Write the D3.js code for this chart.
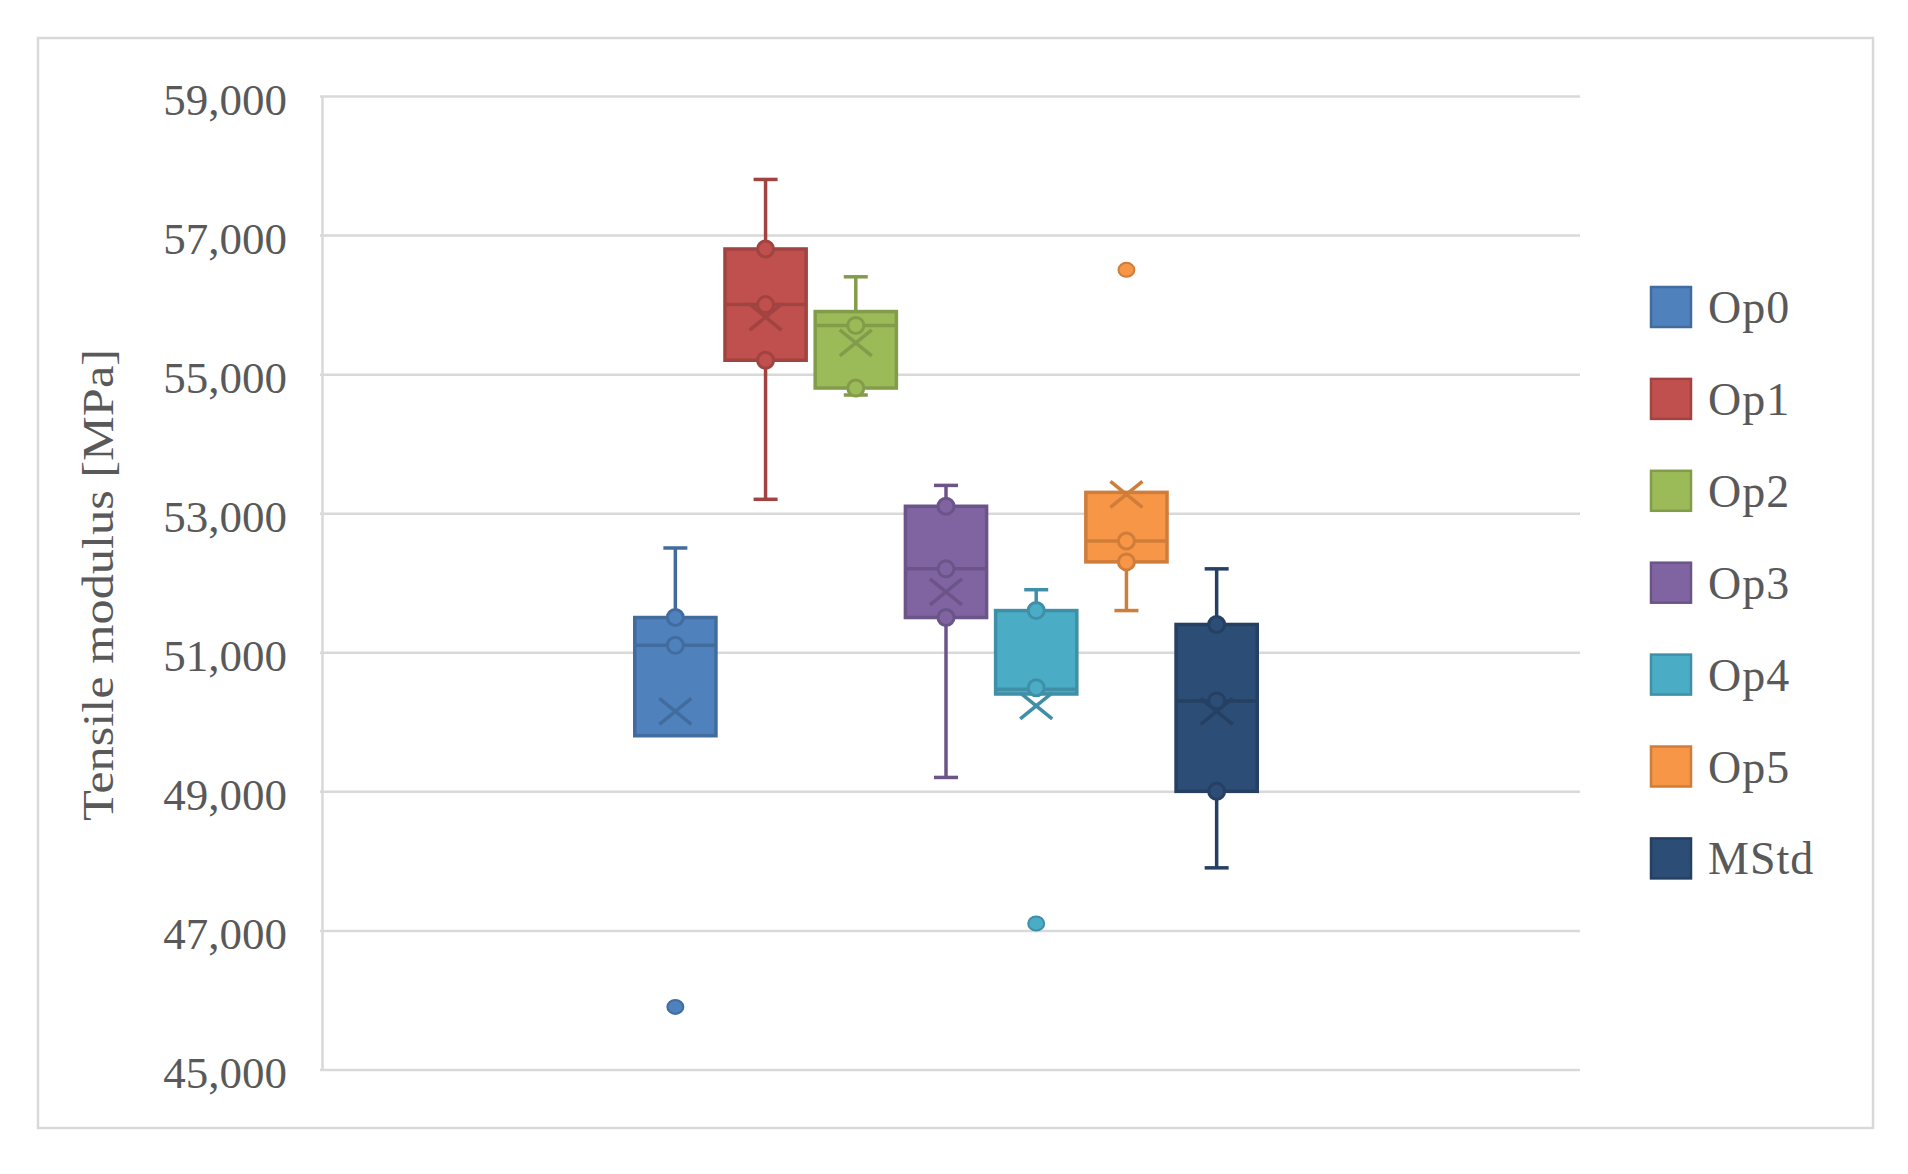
<!DOCTYPE html>
<html>
<head lang="en">
    <meta charset="UTF-8">
    <title>Tensile modulus</title>
    <script src="https://d3js.org/d3.v7.min.js" charset="utf-8"></script>
    <style type="text/css">
        body { margin: 0; background: #ffffff; }
        text { font-family: "Palatino Linotype", "Book Antiqua", Palatino, "Liberation Serif", serif; fill: #595959; }
    </style>
</head>
<body>

<svg id="svg" width="1908" height="1174"></svg>

<script>
    // values (MPa)
    var series = ["Op0", "Op1", "Op2", "Op3", "Op4", "Op5", "MStd"];
    var colors = ["#4F81BD", "#C0504D", "#9BBB59", "#8064A2", "#4BACC6", "#F79646", "#2C4D75"];
    var whiskerMin = [49800, 53200, 54700, 49200, 50400, 51600, 47900];
    var q1 = [49800, 55200, 54800, 51500, 50400, 52300, 49000];
    var median = [51100, 56000, 55700, 52200, 50470, 52600, 50300];
    var q3 = [51500, 56800, 55900, 53100, 51600, 53300, 51400];
    var whiskerMax = [52500, 57800, 56400, 53400, 51900, 53300, 52200];
    var mean = [50150, 55820, 55450, 51870, 50230, 53270, 50150];
    var innerPoints = [[51500, 51100], [56800, 56000, 55200], [55700, 54800], [53100, 52200, 51500],
        [51600, 50490], [52600, 52300], [51400, 50300, 49000]];
    var outliers = [[45900], [], [], [], [47100], [56500], []];
    var yTicks = [45000, 47000, 49000, 51000, 53000, 55000, 57000, 59000];

    var svg = d3.select("svg");
    var gridColor = "#D9D9D9";

    var plotLeft = 322, plotRight = 1576, plotTop = 96, plotBottom = 1069.5;

    svg.append("rect")
            .attr("x", 38).attr("y", 38)
            .attr("width", 1835).attr("height", 1090)
            .style("fill", "#fff")
            .style("stroke", gridColor)
            .style("stroke-width", 2.5);

    var y = d3.scaleLinear().domain([45000, 59000]).range([plotBottom, plotTop]);
    // boxes sit a touch left of the plot centre in the original
    var x = d3.scaleBand().domain(series).range([plotLeft - 3, plotRight - 3])
            .paddingInner(0.1).paddingOuter(3.5);

    // gridlines
    var grid = svg.append("g")
            .attr("transform", "translate(" + (plotLeft - 2) + ",0)")
            .call(d3.axisLeft(y).tickValues(yTicks).tickSize(-(plotRight - plotLeft + 6)).tickFormat(""));
    grid.select(".domain").remove();
    grid.selectAll("line").style("stroke", gridColor).style("stroke-width", 2.5);

    // y axis with labels
    var yAxis = svg.append("g")
            .attr("transform", "translate(" + plotLeft + ",0)")
            .call(d3.axisLeft(y).tickValues(yTicks).tickSize(0).tickSizeOuter(0).tickPadding(35)
                    .tickFormat(d3.format(",")));
    yAxis.select(".domain").style("stroke", gridColor).style("stroke-width", 2.5);
    yAxis.selectAll("text")
            .attr("dy", "0.4em")
            .attr("font-family", null)
            .style("font-size", "45px")
            .style("fill", "#595959");

    // boxes
    var capHalf = 12, xHalfW = 16, xHalfH = 13, pointR = 8;

    series.forEach(function (name, i) {
        var fill = colors[i];
        var line = d3.color(fill).darker(0.5).formatHex();
        var cx = x(name) + x.bandwidth() / 2;
        var g = svg.append("g").attr("class", "box");

        function seg(x1, y1, x2, y2) {
            g.append("line")
                    .attr("x1", x1).attr("y1", y1).attr("x2", x2).attr("y2", y2)
                    .style("stroke", line).style("stroke-width", 3.5);
        }

        if (whiskerMax[i] > q3[i]) {
            seg(cx, y(q3[i]), cx, y(whiskerMax[i]));
            seg(cx - capHalf, y(whiskerMax[i]), cx + capHalf, y(whiskerMax[i]));
        }
        if (whiskerMin[i] < q1[i]) {
            seg(cx, y(q1[i]), cx, y(whiskerMin[i]));
            seg(cx - capHalf, y(whiskerMin[i]), cx + capHalf, y(whiskerMin[i]));
        }

        g.append("rect")
                .attr("x", x(name))
                .attr("y", y(q3[i]))
                .attr("width", x.bandwidth())
                .attr("height", y(q1[i]) - y(q3[i]))
                .style("fill", fill)
                .style("stroke", line)
                .style("stroke-width", 3.5);

        seg(x(name), y(median[i]), x(name) + x.bandwidth(), y(median[i]));

        innerPoints[i].forEach(function (v) {
            g.append("circle")
                    .attr("cx", cx).attr("cy", y(v)).attr("r", pointR)
                    .style("fill", fill).style("stroke", line).style("stroke-width", 3);
        });

        var my = y(mean[i]);
        seg(cx - xHalfW, my - xHalfH, cx + xHalfW, my + xHalfH);
        seg(cx - xHalfW, my + xHalfH, cx + xHalfW, my - xHalfH);

        outliers[i].forEach(function (v) {
            g.append("ellipse")
                    .attr("cx", cx).attr("cy", y(v)).attr("rx", pointR).attr("ry", pointR - 1)
                    .style("fill", fill).style("stroke", line).style("stroke-width", 2);
        });
    });

    // legend
    var legendTop = 307, legendStep = 91.9;
    var legend = svg.append("g");
    series.forEach(function (name, i) {
        var ly = legendTop + i * legendStep;
        legend.append("rect")
                .attr("x", 1651).attr("y", ly - 20)
                .attr("width", 40).attr("height", 40)
                .style("fill", colors[i])
                .style("stroke", d3.color(colors[i]).darker(0.5).formatHex())
                .style("stroke-width", 2.5);
        legend.append("text")
                .attr("x", 1708).attr("y", ly + 16)
                .style("font-size", "46px")
                .style("letter-spacing", "1px")
                .text(name);
    });

    // axis title
    svg.append("text")
            .attr("transform", "translate(113,585) rotate(-90)")
            .attr("text-anchor", "middle")
            .attr("textLength", 472)
            .attr("lengthAdjust", "spacingAndGlyphs")
            .style("font-size", "45px")
            .text("Tensile modulus [MPa]");
</script>

</body>
</html>
